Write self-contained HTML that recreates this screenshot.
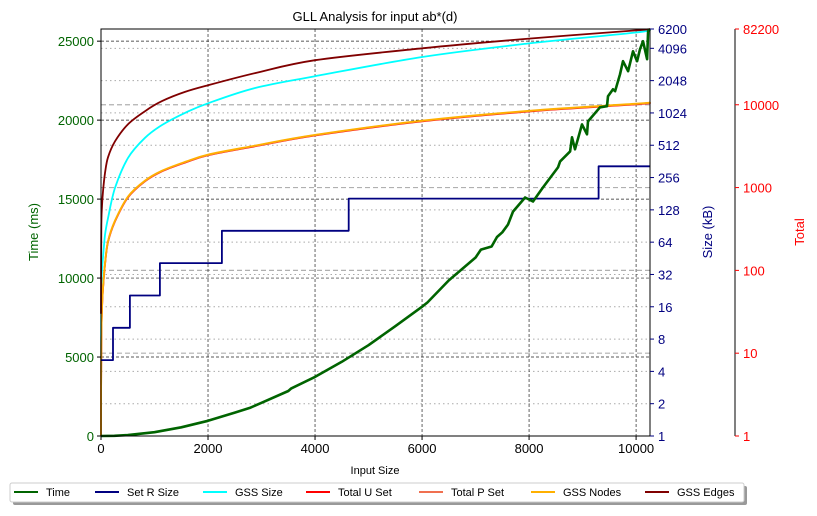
<!DOCTYPE html>
<html><head><meta charset="utf-8"><style>
body{margin:0;background:#fff;}
svg{font-family:"Liberation Sans","DejaVu Sans",sans-serif;}
</style></head><body>
<svg id="chart" width="817" height="511" viewBox="0 0 817 511"></svg>
<script>
// ---- data ----
const timeX = [0,250,500,1000,1500,2000,2500,2780,3000,3500,3550,4000,4500,5000,5500,6000,6100,6500,7000,7100,7300,7400,7500,7607,7700,7925,8074,8261,8541,8579,8766,8803,8859,8990,9083,9102,9326,9457,9476,9569,9607,9700,9756,9850,9943,10018,10074,10130,10205,10224,10260];
const timeY = [0,15,60,240,550,960,1480,1780,2100,2850,3000,3740,4700,5750,6950,8190,8450,9850,11300,11800,12000,12600,12900,13390,14210,15100,14850,15740,17010,17390,18020,18910,18150,19730,19100,19920,20810,20880,21510,21950,21830,22900,23730,23100,24360,23730,24490,25000,23860,25630,25760];
const setRX = [0,225,225,540,540,1100,1100,2260,2260,4630,4630,9300,9300,10260];
const setRY = [5.1,5.1,10.2,10.2,20.4,20.4,40.8,40.8,81.6,81.6,163,163,326,326];
const curveX = [0,5,19,37,75,131,262,505,822,1140,1570,2000,2880,4000,6000,8000,10000,10260];
const gssSize = [3,20,35,46,75,107,205,390,600,790,1025,1260,1750,2250,3400,4550,5750,6150];
const gssEdges = [30,300,600,900,1500,2320,3620,5820,8370,11060,14300,17200,24100,34500,48000,63000,79000,82200];
const totalU = [1,12,35,60,118,220,390,760,1190,1570,2000,2450,3150,4250,6300,8300,10100,10500];
const totalP = [1,12,35,61,119,222,394,768,1200,1585,2020,2470,3180,4290,6360,8380,10200,10600];
const gssNodes = [1,12,36,62,121,226,400,780,1215,1600,2040,2500,3210,4330,6420,8460,10300,10700];
const xTicks = [0,2000,4000,6000,8000,10000];
const timeTicks = [0,5000,10000,15000,20000,25000];
const sizeTicks = [1,2,4,8,16,32,64,128,256,512,1024,2048,4096,6200];
const totalTicks = [1,10,100,1000,10000,82200];

// ---- axes ----
const L=101,R=650,T=29,B=436;
const xs = v => L + v/10260*(R-L);
const yTime = v => B - v/25770*(B-T);
const ySize = v => B - Math.log2(v)/Math.log2(6200)*(B-T);
const yTot = v => B - Math.log10(v)/Math.log10(82200)*(B-T);

const svg=document.getElementById('chart');
const NS='http://www.w3.org/2000/svg';
function mk(tag,attrs,parent){const e=document.createElementNS(NS,tag);for(const k in attrs)e.setAttribute(k,attrs[k]);(parent||svg).appendChild(e);return e;}
function txt(s,attrs,parent){const e=mk('text',attrs,parent);e.textContent=s;return e;}

// grids
const grid=mk('g',{});


sizeTicks.forEach(v=>{mk('line',{x1:L,x2:R,y1:ySize(v),y2:ySize(v),stroke:'#aaa','stroke-width':1,'stroke-dasharray':'1.5,3'},grid);});
totalTicks.slice(1,-1).forEach(v=>{mk('line',{x1:L,x2:R,y1:yTot(v),y2:yTot(v),stroke:'#b0b0b0','stroke-width':1.2,'stroke-dasharray':'5,3'},grid);});
timeTicks.slice(1).forEach(v=>{mk('line',{x1:L,x2:R,y1:yTime(v),y2:yTime(v),stroke:'#222','stroke-width':0.7,'stroke-dasharray':'3,2'},grid);});
xTicks.slice(1).forEach(v=>{mk('line',{x1:xs(v),x2:xs(v),y1:T,y2:B,stroke:'#222','stroke-width':0.7,'stroke-dasharray':'3,2'},grid);});

function pathD(pts,smooth){
  if(!smooth) return pts.map((p,i)=>(i?'L':'M')+p[0].toFixed(1)+','+p[1].toFixed(1)).join(' ');
  let d='M'+pts[0][0].toFixed(1)+','+pts[0][1].toFixed(1);
  for(let i=0;i<pts.length-1;i++){
    const p0=pts[Math.max(0,i-1)],p1=pts[i],p2=pts[i+1],p3=pts[Math.min(pts.length-1,i+2)];
    const c1=[p1[0]+(p2[0]-p0[0])/6,p1[1]+(p2[1]-p0[1])/6];
    const c2=[p2[0]-(p3[0]-p1[0])/6,p2[1]-(p3[1]-p1[1])/6];
    d+=' C'+c1[0].toFixed(1)+','+c1[1].toFixed(1)+' '+c2[0].toFixed(1)+','+c2[1].toFixed(1)+' '+p2[0].toFixed(1)+','+p2[1].toFixed(1);
  }
  return d;
}
function series(name,xa,ya,yf,color,w,smooth){
  const pts=xa.map((x,i)=>[xs(x),yf(ya[i])]);
  const p=mk('path',{d:pathD(pts,smooth),fill:'none',stroke:color,'stroke-width':w,'stroke-linejoin':'round'});
  
  
}
series('gss-size-line',curveX,gssSize,ySize,'#00ffff',1.8,true);
series('total-u-set-line',curveX,totalU,yTot,'#ff0000',1.8,true);
series('total-p-set-line',curveX,totalP,yTot,'#f07050',1.8,true);
series('gss-nodes-line',curveX,gssNodes,yTot,'#ffb000',1.8,true);
series('gss-edges-line',curveX,gssEdges,yTot,'#800000',1.8,true);
series('set-r-size-line',setRX,setRY,ySize,'#000080',1.8,false);
series('time-line',timeX,timeY,yTime,'#006400',2.6,false);

// frame
mk('rect',{x:L,y:T,width:R-L,height:B-T,fill:'none',stroke:'#000','stroke-width':1});
mk('line',{x1:735,x2:735,y1:T,y2:B,stroke:'#000','stroke-width':1});

// ticks
xTicks.forEach(v=>{mk('line',{x1:xs(v),x2:xs(v),y1:B,y2:B+4,stroke:'#000'});
  const t=txt(v,{x:xs(v),y:B+17,'font-size':13,'text-anchor':'middle',fill:'#000'});
  });
timeTicks.forEach(v=>{mk('line',{x1:L-4,x2:L,y1:yTime(v),y2:yTime(v),stroke:'#000'});
  const t=txt(v,{x:L-7,y:yTime(v)+5,'font-size':13,'text-anchor':'end',fill:'#006400'});
  });
sizeTicks.forEach(v=>{mk('line',{x1:R,x2:R+4,y1:ySize(v),y2:ySize(v),stroke:'#000080'});
  const t=txt(v,{x:R+8,y:ySize(v)+5,'font-size':13,fill:'#000080'});
  });
totalTicks.forEach(v=>{mk('line',{x1:735,x2:739,y1:yTot(v),y2:yTot(v),stroke:'#ff0000'});
  const t=txt(v,{x:743,y:yTot(v)+5,'font-size':13,fill:'#ff0000'});
  });

// titles
const ti=txt('GLL Analysis for input ab*(d)',{x:375,y:21,'font-size':13,'text-anchor':'middle',fill:'#000'});

const xl=txt('Input Size',{x:375,y:474,'font-size':11,'text-anchor':'middle',fill:'#000'});

const yl=txt('Time (ms)',{x:0,y:0,'font-size':13,'text-anchor':'middle',fill:'#006400',transform:'translate(38,232) rotate(-90)'});

const sl=txt('Size (kB)',{x:0,y:0,'font-size':13,'text-anchor':'middle',fill:'#000080',transform:'translate(712,232) rotate(-90)'});

const tl=txt('Total',{x:0,y:0,'font-size':13,'text-anchor':'middle',fill:'#ff0000',transform:'translate(804,232) rotate(-90)'});


// legend
const lg=mk('g',{});


mk('rect',{x:13,y:486,width:734,height:19,fill:'#999',rx:2},lg);
mk('rect',{x:10,y:483,width:734,height:19,fill:'#fff',stroke:'#ccc',rx:2},lg);
const legNames=['Time','Set R Size','GSS Size','Total U Set','Total P Set','GSS Nodes','GSS Edges'];
const legColors=['#006400','#000080','#00ffff','#ff0000','#f07050','#ffb000','#800000'];
const legX=[14,95,203,306,419,531,645];
legNames.forEach((n,i)=>{
  const g=mk('g',{},lg);
  
  
  mk('line',{x1:legX[i],x2:legX[i]+24,y1:492,y2:492,stroke:legColors[i],'stroke-width':2},g);
  txt(n,{x:legX[i]+32,y:496,'font-size':11,fill:'#000'},g);
});
</script>
</body></html>
